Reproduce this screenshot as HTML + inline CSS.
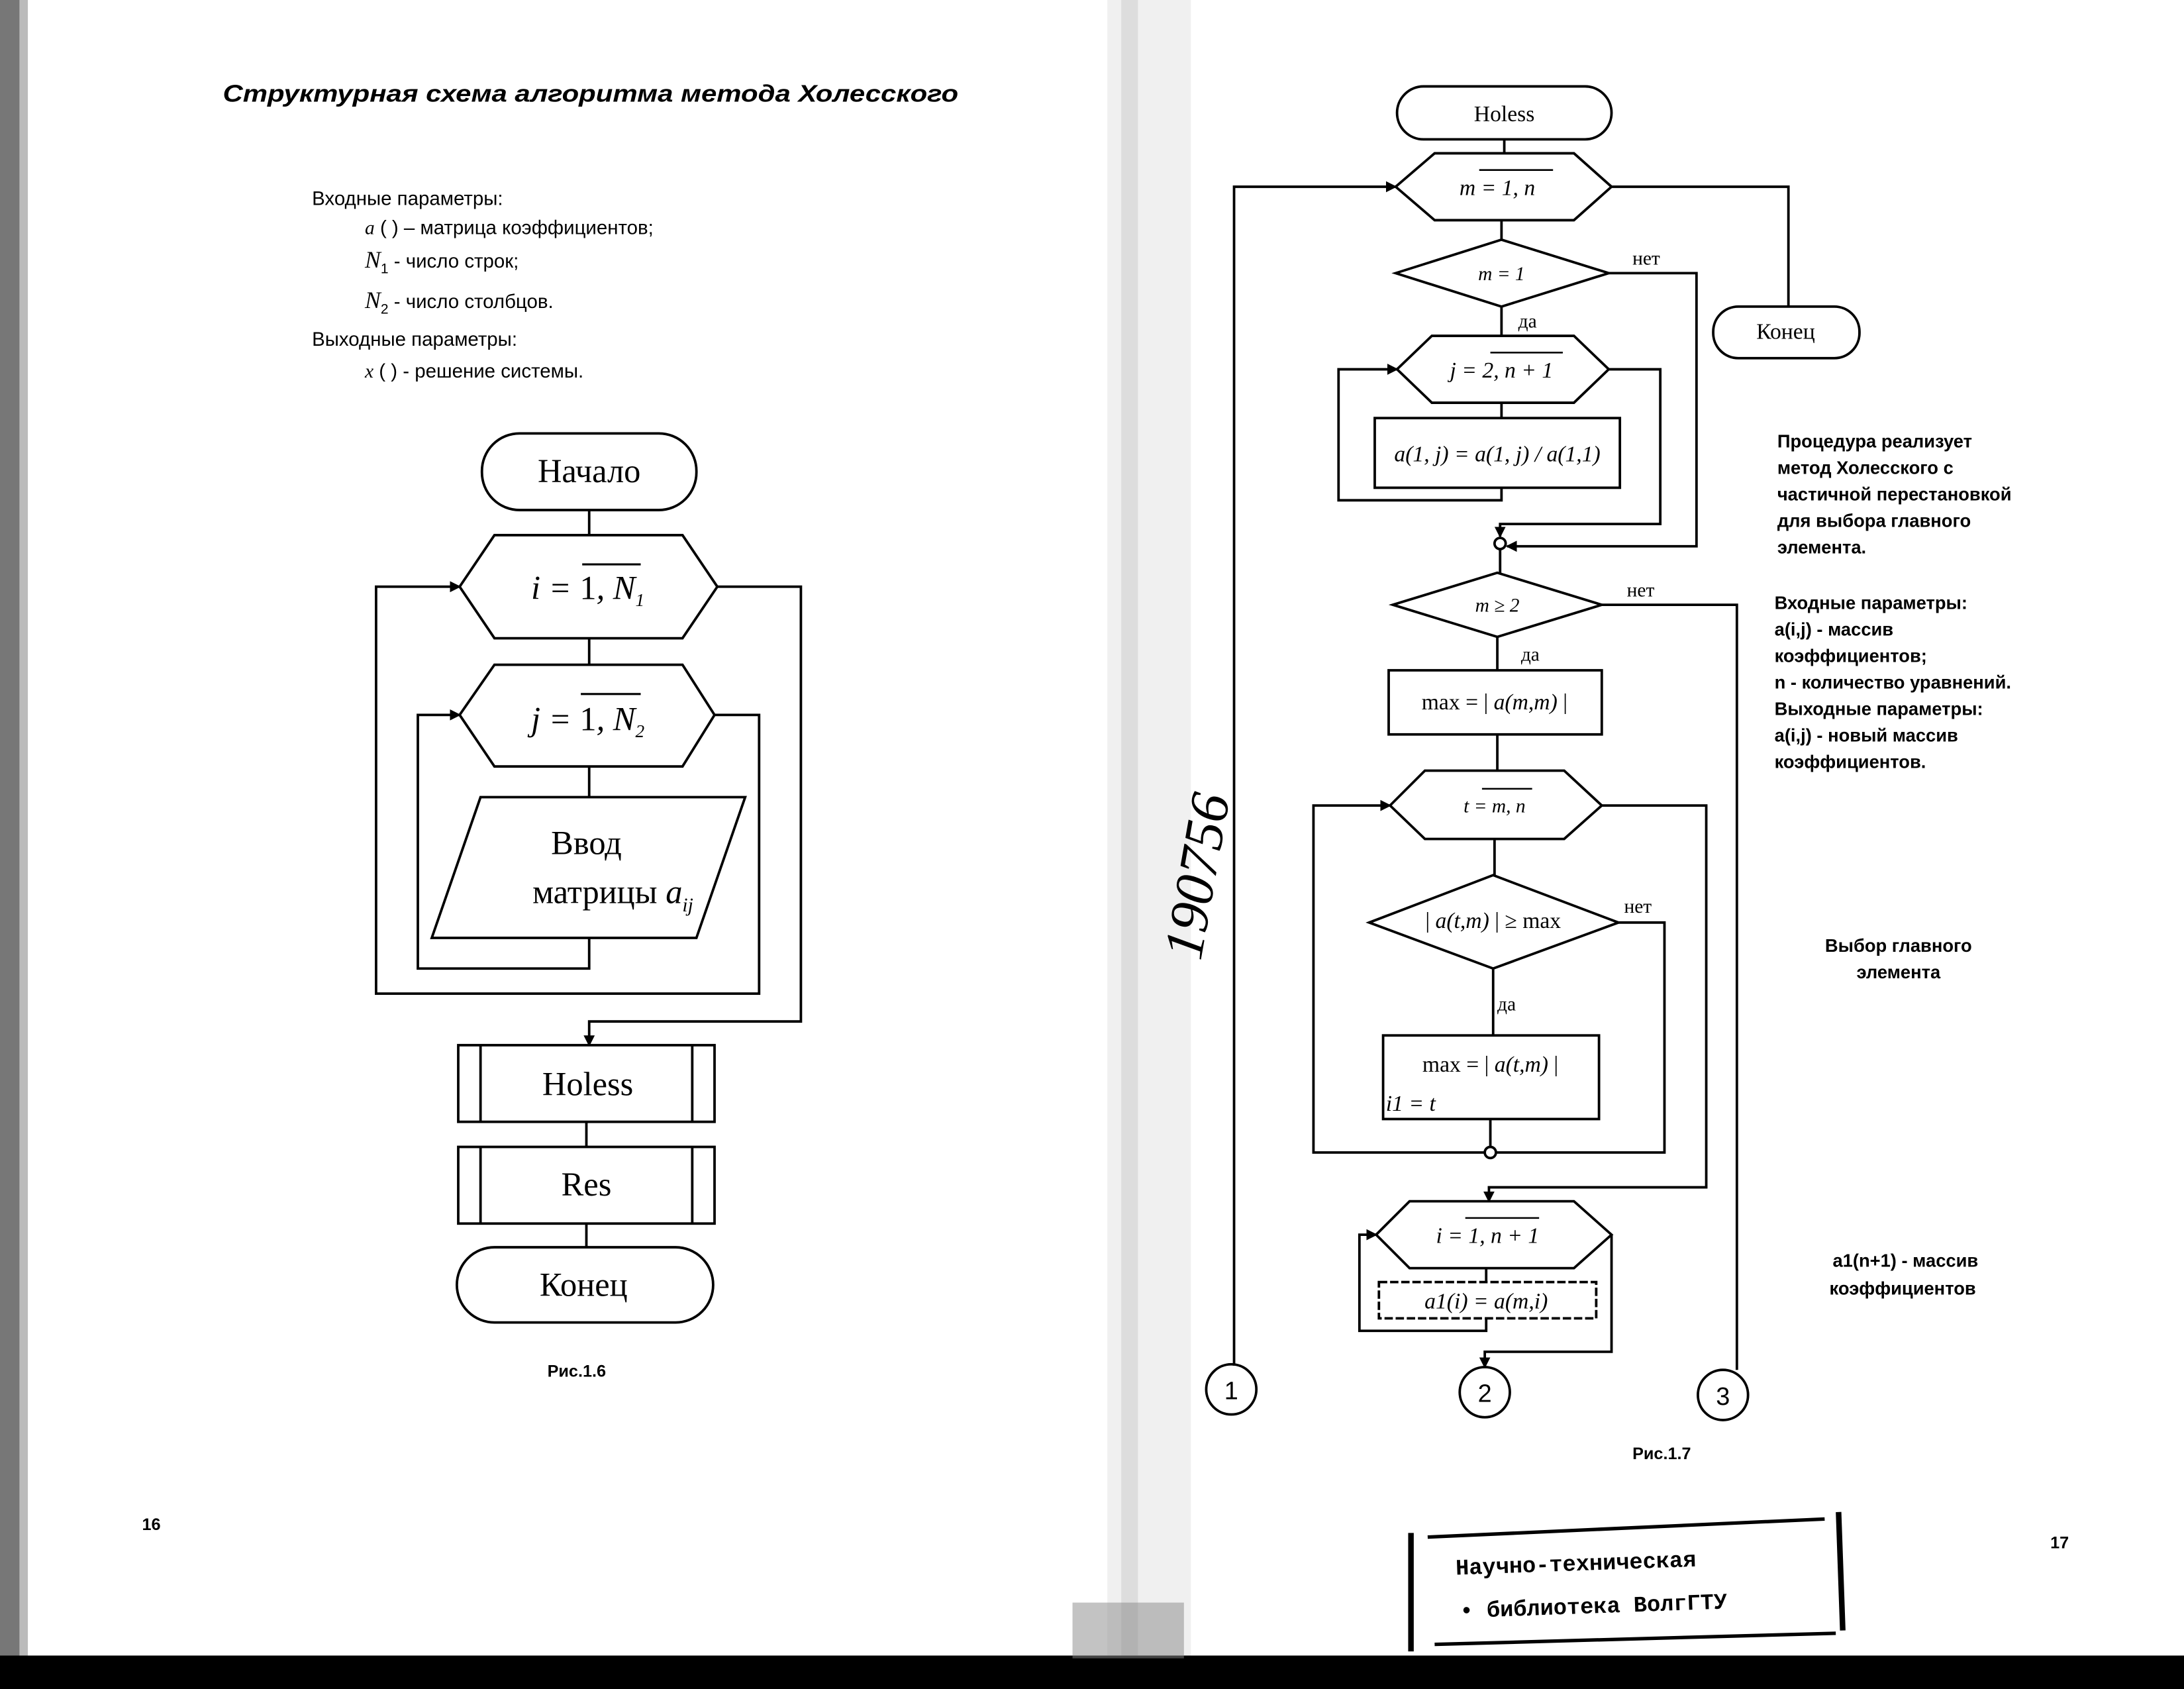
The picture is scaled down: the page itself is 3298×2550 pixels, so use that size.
<!DOCTYPE html>
<html><head><meta charset="utf-8"><style>
html,body{margin:0;padding:0;background:#fff}
svg{display:block}
.s{font-family:"Liberation Serif","DejaVu Serif",serif}
.a{font-family:"Liberation Sans","DejaVu Sans",sans-serif}
</style></head><body>
<svg width="3298" height="2550" viewBox="0 0 1568 1212" preserveAspectRatio="none" xmlns="http://www.w3.org/2000/svg">
<defs><marker id="ar" markerWidth="8" markerHeight="8" refX="7" refY="4" orient="auto" markerUnits="userSpaceOnUse"><path d="M0,0 L8,4 L0,8 z" fill="#000"/></marker></defs>
<rect width="1568" height="1212" fill="#fff"/>
<rect x="0" y="0" width="14" height="1212" fill="#777"/>
<rect x="14" y="0" width="6" height="1212" fill="#bbb"/>
<rect x="795" y="0" width="60" height="1190" fill="#f0f0f0"/>
<rect x="805" y="0" width="12" height="1190" fill="#ddd"/>
<rect x="0" y="1188" width="1568" height="24" fill="#000"/>
<rect x="770" y="1150" width="80" height="40" fill="#888" opacity="0.5"/>
<g fill="none" stroke="#000" stroke-width="1.8">
<rect x="346" y="311" width="154" height="55" rx="27"/>
<line x1="423" y1="366" x2="423" y2="384"/>
<polygon points="330,421 355,384 490,384 515,421 490,458 355,458"/>
<line x1="423" y1="458" x2="423" y2="477"/>
<polygon points="330,513 355,477 490,477 513,513 490,550 355,550"/>
<line x1="423" y1="550" x2="423" y2="572"/>
<polygon points="310,673 345,572 535,572 500,673"/>
<polyline points="423,673 423,695 300,695 300,513 330,513" marker-end="url(#ar)"/>
<polyline points="513,513 545,513 545,713 270,713 270,421 330,421" marker-end="url(#ar)"/>
<polyline points="515,421 575,421 575,733 423,733 423,750" marker-end="url(#ar)"/>
<rect x="329" y="750" width="184" height="55"/><line x1="345" y1="750" x2="345" y2="805"/><line x1="497" y1="750" x2="497" y2="805"/>
<line x1="421" y1="805" x2="421" y2="823"/>
<rect x="329" y="823" width="184" height="55"/><line x1="345" y1="823" x2="345" y2="878"/><line x1="497" y1="823" x2="497" y2="878"/>
<line x1="421" y1="878" x2="421" y2="895"/>
<rect x="328" y="895" width="184" height="54" rx="27"/>
<rect x="1003" y="62" width="154" height="38" rx="19"/>
<line x1="1080" y1="100" x2="1080" y2="110"/>
<polygon points="1002,134 1030,110 1130,110 1157,134 1130,158 1030,158"/>
<polyline points="886,980 886,134 1002,134" marker-end="url(#ar)"/>
<polyline points="1157,134 1284,134 1284,220"/>
<rect x="1230" y="220" width="105" height="37" rx="18"/>
<line x1="1078" y1="158" x2="1078" y2="172"/>
<polygon points="1002,196 1078,172 1155,196 1078,220"/>
<line x1="1078" y1="220" x2="1078" y2="241"/>
<polyline points="1155,196 1218,196 1218,392 1082,392" marker-end="url(#ar)"/>
<polygon points="1003,265 1028,241 1130,241 1155,265 1130,289 1028,289"/>
<line x1="1078" y1="289" x2="1078" y2="300"/>
<rect x="987" y="300" width="176" height="50"/>
<polyline points="1078,350 1078,359 961,359 961,265 1003,265" marker-end="url(#ar)"/>
<polyline points="1155,265 1192,265 1192,376 1077,376 1077,385" marker-end="url(#ar)"/>
<circle cx="1077" cy="390" r="4"/>
<line x1="1077" y1="394" x2="1077" y2="411"/>
<polygon points="1000,434 1075,411 1150,434 1075,457"/>
<polyline points="1150,434 1247,434 1247,983"/>
<line x1="1075" y1="457" x2="1075" y2="481"/>
<rect x="997" y="481" width="153" height="46"/>
<line x1="1075" y1="527" x2="1075" y2="553"/>
<polygon points="998,578 1023,553 1123,553 1150,578 1123,602 1023,602"/>
<line x1="1073" y1="602" x2="1073" y2="628"/>
<polygon points="983,662 1072,628 1162,662 1072,695"/>
<line x1="1072" y1="695" x2="1072" y2="743"/>
<rect x="993" y="743" width="155" height="60"/>
<line x1="1070" y1="803" x2="1070" y2="823"/>
<circle cx="1070" cy="827" r="4"/>
<polyline points="1162,662 1195,662 1195,827 1074,827"/>
<polyline points="1066,827 943,827 943,578 998,578" marker-end="url(#ar)"/>
<polyline points="1150,578 1225,578 1225,852 1069,852 1069,862" marker-end="url(#ar)"/>
<polygon points="988,886 1012,862 1130,862 1157,886 1130,910 1012,910"/>
<line x1="1067" y1="910" x2="1067" y2="920"/>
<rect x="990" y="920" width="156" height="26" stroke-dasharray="6,2"/>
<polyline points="1067,946 1067,955 976,955 976,886 988,886" marker-end="url(#ar)"/>
<polyline points="1157,886 1157,970 1066,970 1066,981" marker-end="url(#ar)"/>
<circle cx="884" cy="997" r="18"/>
<circle cx="1066" cy="999" r="18"/>
<circle cx="1237" cy="1001" r="18"/>
<line x1="1013" y1="1100" x2="1013" y2="1185" stroke-width="4"/>
<line x1="1320" y1="1085" x2="1323" y2="1170" stroke-width="4"/>
<line x1="1025" y1="1103" x2="1310" y2="1090" stroke-width="2.5"/>
<line x1="1030" y1="1180" x2="1318" y2="1172" stroke-width="2.5"/>
</g>
<g class="a" font-size="17" font-style="italic" font-weight="bold"><text x="160" y="73" textLength="528" lengthAdjust="spacingAndGlyphs">Структурная схема алгоритма метода Холесского</text></g>
<g class="a" font-size="14">
<text x="224" y="147">Входные параметры:</text>
<text x="262" y="168"><tspan font-style="italic" class="s">a</tspan> ( ) – матрица коэффициентов;</text>
<text x="262" y="192"><tspan font-style="italic" class="s" font-size="17">N</tspan><tspan font-size="10" dy="4">1</tspan><tspan dy="-4"> - число строк;</tspan></text>
<text x="262" y="221"><tspan font-style="italic" class="s" font-size="17">N</tspan><tspan font-size="10" dy="4">2</tspan><tspan dy="-4"> - число столбцов.</tspan></text>
<text x="224" y="248">Выходные параметры:</text>
<text x="262" y="271"><tspan font-style="italic" class="s">x</tspan> ( ) - решение системы.</text>
</g>
<g class="s" font-size="24" text-anchor="middle">
<text x="423" y="346">Начало</text>
<text x="422" y="430" font-style="italic">i = <tspan font-style="normal">1</tspan>, N<tspan font-size="13" dy="5">1</tspan></text>
<text x="422" y="524" font-style="italic">j = <tspan font-style="normal">1</tspan>, N<tspan font-size="13" dy="5">2</tspan></text>
<text x="421" y="613">Ввод</text>
<text x="440" y="648">матрицы <tspan font-style="italic">a</tspan><tspan font-size="14" dy="6" font-style="italic">ij</tspan></text>
<text x="422" y="786">Holess</text>
<text x="421" y="858">Res</text>
<text x="419" y="930">Конец</text>
</g>
<g stroke="#000" stroke-width="1.5"><line x1="418" y1="405" x2="460" y2="405"/><line x1="417" y1="498" x2="460" y2="498"/></g>
<g class="a" font-size="12" font-weight="bold"><text x="393" y="988">Рис.1.6</text><text x="102" y="1098">16</text><text x="1472" y="1111">17</text><text x="1172" y="1047">Рис.1.7</text></g>
<g class="s" font-size="16" text-anchor="middle">
<text x="1080" y="87">Holess</text>
<text x="1075" y="140" font-style="italic">m = 1, n</text>
<text x="1078" y="201" font-style="italic" font-size="14">m = 1</text>
<text x="1078" y="271" font-style="italic">j = 2, n + 1</text>
<text x="1075" y="331" font-style="italic">a(1, j) = a(1, j) / a(1,1)</text>
<text x="1075" y="439" font-style="italic" font-size="14">m ≥ 2</text>
<text x="1073" y="509">max = | <tspan font-style="italic">a(m,m)</tspan> |</text>
<text x="1073" y="583" font-style="italic" font-size="14">t = m, n</text>
<text x="1072" y="666">| <tspan font-style="italic">a(t,m)</tspan> | ≥ max</text>
<text x="1070" y="769">max = | <tspan font-style="italic">a(t,m)</tspan> |</text>
<text x="995" y="797" text-anchor="start" font-style="italic">i1 = t</text>
<text x="1068" y="892" font-style="italic">i = 1, n + 1</text>
<text x="1067" y="939" font-style="italic">a1(i) = a(m,i)</text>
<text x="1282" y="243">Конец</text>
<text x="884" y="1004" font-size="18" font-family="Liberation Sans">1</text>
<text x="1066" y="1006" font-size="18" font-family="Liberation Sans">2</text>
<text x="1237" y="1008" font-size="18" font-family="Liberation Sans">3</text>
</g>
<g class="s" font-size="14">
<text x="1172" y="190">нет</text><text x="1090" y="235">да</text>
<text x="1168" y="428">нет</text><text x="1092" y="474">да</text>
<text x="1166" y="655">нет</text><text x="1075" y="725">да</text>
</g>
<g stroke="#000" stroke-width="1.2"><line x1="1062" y1="122" x2="1115" y2="122"/><line x1="1070" y1="253" x2="1122" y2="253"/><line x1="1064" y1="566" x2="1100" y2="566"/><line x1="1052" y1="874" x2="1105" y2="874"/></g>
<g class="a" font-size="13" font-weight="bold">
<text x="1276" y="321">Процедура реализует</text>
<text x="1276" y="340">метод Холесского с</text>
<text x="1276" y="359">частичной перестановкой</text>
<text x="1276" y="378">для выбора главного</text>
<text x="1276" y="397">элемента.</text>
<text x="1274" y="437">Входные параметры:</text>
<text x="1274" y="456">a(i,j) - массив</text>
<text x="1274" y="475">коэффициентов;</text>
<text x="1274" y="494">n - количество уравнений.</text>
<text x="1274" y="513">Выходные параметры:</text>
<text x="1274" y="532">a(i,j) - новый массив</text>
<text x="1274" y="551">коэффициентов.</text>
<g text-anchor="middle"><text x="1363" y="683">Выбор главного</text><text x="1363" y="702">элемента</text>
<text x="1368" y="909">a1(n+1) - массив</text><text x="1366" y="929">коэффициентов</text></g>
</g>
<g font-family="Liberation Mono, monospace" font-size="16" font-weight="bold">
<text x="1045" y="1126" transform="rotate(-2 1160 1120)">Научно-техническая</text>
<text x="1048" y="1157" transform="rotate(-2 1160 1150)">• библиотека ВолгГТУ</text>
</g>
<text x="0" y="0" transform="translate(862,690) rotate(-80)" font-family="Liberation Serif,serif" font-style="italic" font-size="40">190756</text>
</svg>
</body></html>
